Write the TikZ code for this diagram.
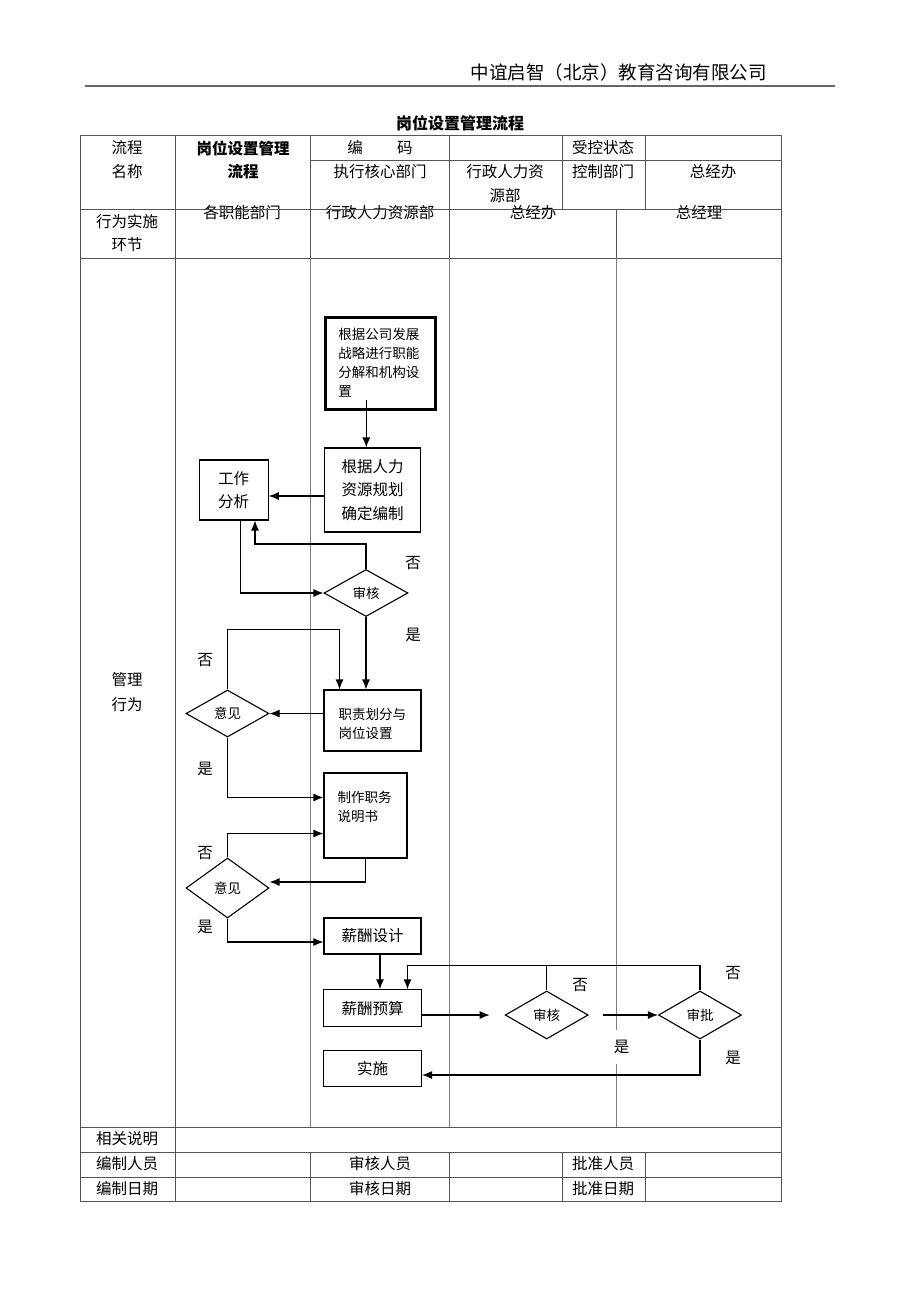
\documentclass[tikz,border=0pt]{standalone}
\usepackage{fontspec}
\setmainfont{Noto Sans CJK SC}
\usetikzlibrary{arrows.meta,shapes.geometric}
\definecolor{tableline}{RGB}{85,85,85}
\definecolor{laneline}{RGB}{125,125,125}
\newcommand{\cellfont}{\fontsize{15.5}{23.5}\selectfont}
\newcommand{\notefont}{\fontsize{13.5}{19}\selectfont}
\tikzstyle{cell}=[inner sep=0pt, font=\cellfont]
\tikzstyle{headcell}=[inner sep=0pt, font=\cellfont\bfseries]
\tikzstyle{box}=[draw, rectangle, line width=1.1pt, inner sep=0pt, font=\cellfont, align=center]
\tikzstyle{thickbox}=[box, line width=3pt, font=\notefont, align=left, text width=84pt]
\tikzstyle{notebox}=[box, font=\notefont, align=left]
\tikzstyle{decision}=[draw, diamond, line width=1.1pt, inner sep=0pt, font=\notefont]
\tikzstyle{answer}=[inner sep=1pt, font=\cellfont]
\tikzstyle{arr}=[-{Latex[length=10pt,width=8pt]}, line width=1.1pt]
\tikzstyle{grid}=[line width=1pt, color=tableline]
\tikzstyle{lane}=[line width=1pt, color=laneline]

\begin{document}
\begin{tikzpicture}[x=1pt,y=-1pt]
  \useasboundingbox[fill=white] (0,0) rectangle (920,1302);

  %% Page head
  \draw (767,72) node[anchor=east, inner sep=0pt, font=\fontsize{18.5}{20}\selectfont] (company) {中谊启智（北京）教育咨询有限公司};
  \draw[line width=2pt, color=black!60] (85,86) -- (835,86);
  \draw (460,123) node[inner sep=0pt, font=\fontsize{16}{18}\selectfont\bfseries] (title) {岗位设置管理流程};

  %% Table texts
  \draw (127,148) node[cell] (t11) {流程};
  \draw (127,172) node[cell] (t12) {名称};
  \draw (243,148) node[headcell] (t21) {岗位设置管理};
  \draw (243,172) node[headcell] (t22) {流程};
  \draw (380,148) node[cell] (t31) {编\hspace{2.2em}码};
  \draw (603,148) node[cell] (t51) {受控状态};
  \draw (380,172) node[cell] (t32) {执行核心部门};
  \draw (505,172) node[cell] (t41) {行政人力资};
  \draw (505,196) node[cell] (t42) {源部};
  \draw (603,172) node[cell] (t52) {控制部门};
  \draw (713,172) node[cell] (t62) {总经办};

  \draw (127,222) node[cell] (r1) {行为实施};
  \draw (127,245) node[cell] (r2) {环节};
  \draw (242,213) node[cell] (lane1) {各职能部门};
  \draw (380,213) node[cell] (lane2) {行政人力资源部};
  \draw (533,213) node[cell] (lane3) {总经办};
  \draw (699,213) node[cell] (lane4) {总经理};
  \draw (127,680) node[cell] (m1) {管理};
  \draw (127,705) node[cell] (m2) {行为};

  \draw (127,1139) node[cell] (f1) {相关说明};
  \draw (127,1164) node[cell] (f2) {编制人员};
  \draw (380,1164) node[cell] (f3) {审核人员};
  \draw (603,1164) node[cell] (f4) {批准人员};
  \draw (127,1189) node[cell] (f5) {编制日期};
  \draw (380,1189) node[cell] (f6) {审核日期};
  \draw (603,1189) node[cell] (f7) {批准日期};

  %% Table lines
  \draw[grid] (80,135) rectangle (781,1201);
  \draw[grid] (310,160) -- (781,160);
  \draw[grid] (80,209) -- (781,209);
  \draw[grid] (80,258) -- (781,258);
  \draw[grid] (80,1127) -- (781,1127);
  \draw[grid] (80,1152) -- (781,1152);
  \draw[grid] (80,1177) -- (781,1177);
  \draw[grid] (175,135) -- (175,1201);
  \draw[grid] (310,135) -- (310,258);
  \draw[grid] (449,135) -- (449,258);
  \draw[grid] (562,135) -- (562,209);
  \draw[grid] (645,135) -- (645,209);
  \draw[grid] (616,209) -- (616,258);
  \draw[grid] (310,1152) -- (310,1201);
  \draw[grid] (449,1152) -- (449,1201);
  \draw[grid] (562,1152) -- (562,1201);
  \draw[grid] (645,1152) -- (645,1201);
  \draw[lane] (310,258) -- (310,1127);
  \draw[lane] (449,258) -- (449,1127);
  \draw[lane] (616,258) -- (616,1127);

  %% Flow
  \draw (380.3,363) node[thickbox, minimum width=109.7pt, minimum height=92pt] (b1) {根据公司发展\\战略进行职能\\分解和机构设\\置};
  \draw (372.7,490) node[box, minimum width=96pt, minimum height=84pt] (b2) {根据人力\\资源规划\\确定编制};
  \draw (233.7,490) node[box, minimum width=69pt, minimum height=60pt] (gz) {工作\\分析};
  \draw (366,593) node[decision, minimum width=84pt, minimum height=47pt] (d1) {审核};
  \draw (372.5,720.5) node[notebox, text width=68pt, text depth=14pt, minimum width=97pt, minimum height=61pt] (zz) {职责划分与\\岗位设置};
  \draw (227.5,713.5) node[decision, minimum width=83pt, minimum height=47pt] (d2) {意见};
  \draw (365.5,815.5) node[notebox, text width=56pt, text depth=37pt, minimum width=83pt, minimum height=85pt] (zd) {制作职务\\说明书};
  \draw (227.5,888) node[decision, minimum width=83pt, minimum height=60pt] (d3) {意见};
  \draw (372.5,936) node[box, minimum width=97pt, minimum height=36pt] (xs) {薪酬设计};
  \draw (372.5,1008.3) node[box, minimum width=98pt, minimum height=37pt] (ys) {薪酬预算};
  \draw (546.7,1015) node[decision, minimum width=83pt, minimum height=48pt] (sh2) {审核};
  \draw (700,1015) node[decision, minimum width=83pt, minimum height=48pt] (sp) {审批};
  \draw (372.5,1068.7) node[box, minimum width=98pt, minimum height=36pt] (ss) {实施};

  \draw[arr] ([xshift=-14pt,yshift=10.5pt]b1.south) -- ([xshift=-14pt]b1.south |- b2.north);
  \draw[arr] ([yshift=-6pt]b2.west) -- ([yshift=-6pt]b2.west -| gz.east);
  \draw[arr] (d1.north) -- ++(0,-25) -| ([xshift=21.3pt]gz.south);
  \draw[arr] ([xshift=7pt]gz.south) |- (d1.west);
  \draw[arr] (d1.south) -- (d1.south |- zz.north);
  \draw[arr] (d2.east -| zz.west) -- (d2.east);
  \draw[arr] (d2.north) -- ++(0,-60) -| ([xshift=-33pt]zz.north);
  \draw[arr] (d2.south) |- ([yshift=18pt]zd.west);
  \draw[arr] (d3.north) |- ([yshift=-18pt]zd.west);
  \draw[arr] (zd.south) |- ([yshift=6pt]d3.east);
  \draw[arr] (d3.south) |- ([yshift=-6pt]xs.west);
  \draw[arr] ([xshift=7.5pt]xs.south) -- ([xshift=7.5pt]xs.south |- ys.north);
  \draw[arr, shorten >=15pt] (sh2.west -| ys.east) -- (sh2.west);
  \draw[arr, shorten <=14pt] (sh2.east) -- (sp.west);
  \draw[line width=1.1pt] (sh2.north) -- ++(0,-24.7);
  \draw[arr] (sp.north) -- ++(0,-24.7) -| ([xshift=35pt]ys.north);
  \draw[arr] (sp.south) |- ([yshift=-6.3pt]ss.east);

  %% Yes / no
  \draw (413,563) node[answer] (no1) {否};
  \draw (413,635) node[answer] (yes1) {是};
  \draw (205,660) node[answer] (no2) {否};
  \draw (205,769) node[answer] (yes2) {是};
  \draw (205,853) node[answer] (no3) {否};
  \draw (205,927) node[answer] (yes3) {是};
  \draw (580,985) node[answer] (no4) {否};
  \draw (733,973) node[answer] (no5) {否};
  \draw (621.7,1046.7) node[answer, fill=white, minimum width=38pt, minimum height=34pt] (yes4) {是};
  \draw (733,1058) node[answer] (yes5) {是};
\end{tikzpicture}
\end{document}
